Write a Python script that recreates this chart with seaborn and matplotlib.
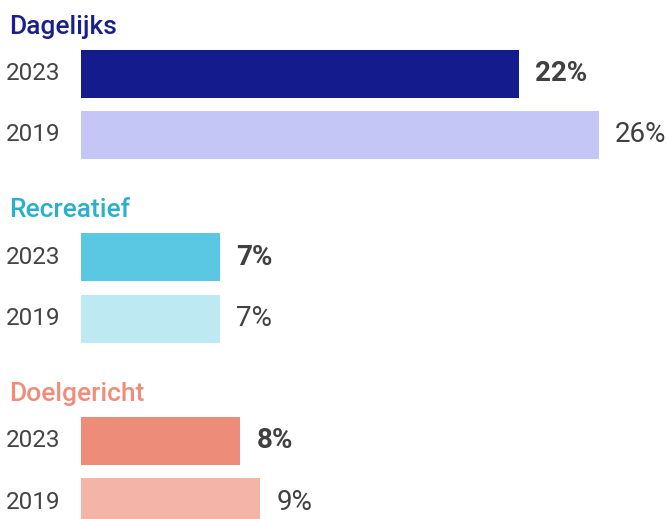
import pandas as pd
import seaborn as sns
import matplotlib.pyplot as plt

groups = ["Dagelijks", "Recreatief", "Doelgericht"]
years = ["2023", "2019"]
values_2023 = [22, 7, 8]
values_2019 = [26, 7, 9]
bar_colors_2023 = ["#141b8c", "#5bc8e3", "#ee8c7a"]
bar_colors_2019 = ["#c4c7f5", "#bde9f2", "#f4b5a8"]
title_colors = ["#1a1f8c", "#2aafcc", "#f08c7a"]

sns.set_style("white")
plt.rcParams["font.family"] = ["Roboto", "DejaVu Sans"]

rows = []
for i, g in enumerate(groups):
    rows.append({"key": g + " 2023", "group": g, "year": "2023", "value": values_2023[i]})
    rows.append({"key": g + " 2019", "group": g, "year": "2019", "value": values_2019[i]})
df = pd.DataFrame(rows)

# order with spacer slots between groups
order = []
palette = {}
for i, g in enumerate(groups):
    order += [g + " 2023", g + " 2019"]
    palette[g + " 2023"] = bar_colors_2023[i]
    palette[g + " 2019"] = bar_colors_2019[i]
    if i < len(groups) - 1:
        order.append("gap%d" % i)

fig = plt.figure(figsize=(6.67, 5.19), dpi=100)
ax = fig.add_axes([81 / 667, 0, 586 / 667, 1])
sns.barplot(data=df, x="value", y="key", order=order, hue="key", palette=palette,
            legend=False, width=0.784, saturation=1, linewidth=0, ax=ax)

ax.set_xlim(0, 586 / 19.92)
ax.set_ylim(7.275, -1.206)
ax.axis("off")

trans_fig_x = ax.get_yaxis_transform()
px = 1 / 586  # axes fraction per pixel
for i, g in enumerate(groups):
    r23 = order.index(g + " 2023")
    r19 = order.index(g + " 2019")
    ax.text(-72 * px, r23 - 0.655, g, transform=trans_fig_x, fontsize=19,
            fontweight="medium", color=title_colors[i], va="baseline", ha="left")
    for r, yr, v, bold in [(r23, "2023", values_2023[i], True), (r19, "2019", values_2019[i], False)]:
        ax.text(-75 * px, r, yr, transform=trans_fig_x, fontsize=17.5, color="#444444",
                va="center", ha="left")
        ax.text(v + 0.8, r, "%d%%" % v, fontsize=20, color="#404040",
                fontweight="bold" if bold else "normal", va="center", ha="left")

fig.savefig("out.png", dpi=100)
